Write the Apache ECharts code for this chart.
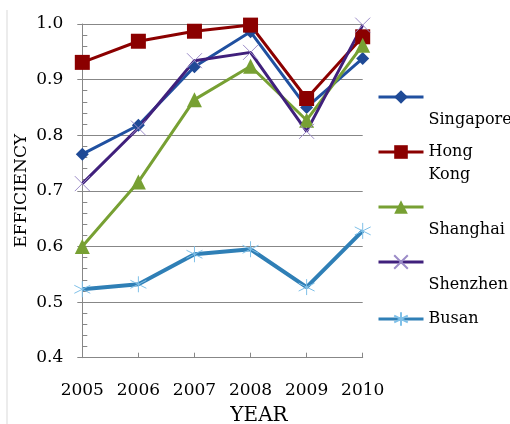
<!DOCTYPE html>
<html>
<head>
<meta charset="utf-8">
<script src="https://cdn.jsdelivr.net/npm/echarts@6/dist/echarts.min.js"></script>
<style>html,body{margin:0;padding:0;background:#fff}#c{width:510px;height:424px}</style>
</head>
<body>
<div id="c"></div>
<script>
const years = ['2005', '2006', '2007', '2008', '2009', '2010'];
const yTicks = [0.4, 0.5, 0.6, 0.7, 0.8, 0.9, 1.0];
const singapore = [0.766, 0.818, 0.923, 0.986, 0.850, 0.938];
const hongKong  = [0.931, 0.969, 0.987, 0.998, 0.866, 0.977];
const shanghai  = [0.600, 0.716, 0.864, 0.924, 0.827, 0.962];
const shenzhen  = [0.713, 0.813, 0.934, 0.949, 0.807, 0.998];
const busan     = [0.523, 0.532, 0.586, 0.595, 0.527, 0.628];
const names = ['Singapore', 'Hong Kong', 'Shanghai', 'Shenzhen', 'Busan'];

const FONT = 'DejaVu Serif';
const GRID = '#878787';
const xPath = 'path://M0,0 L10,10 M10,0 L0,10';
const starPath = 'path://M5,0 L5,10 M0.7,2.5 L9.3,7.5 M9.3,2.5 L0.7,7.5';
const NB = '\u00a0';

function mk(name, data, lineColor, symbol, size, symColor, strokeOnly, lw) {
  return {
    name: name, type: 'line', data: data,
    symbol: symbol, symbolSize: size,
    lineStyle: { color: lineColor, width: lw || 3 },
    itemStyle: strokeOnly
      ? { color: lineColor, borderColor: symColor, borderWidth: 1 }
      : { color: symColor },
    emphasis: { disabled: true },
    animation: false
  };
}

const chart = echarts.init(document.getElementById('c'));
const mkLegend = (name, top, fmt) => ({
  data: [name], orient: 'vertical', left: 377, top: top, padding: 0,
  itemWidth: 45, itemHeight: 17, selectedMode: false,
  lineStyle: { width: 3 },
  formatter: fmt,
  textStyle: { fontFamily: FONT, fontSize: 16, color: '#000', lineHeight: 23 }
});

chart.setOption({
  animation: false,
  grid: { left: 82.3, right: 147.3, top: 24, bottom: 66.3, containLabel: false, outerBoundsMode: 'none' },
  graphic: [{ type: 'line', shape: { x1: 7, y1: 10, x2: 7, y2: 424 }, style: { stroke: '#d9d9d9', lineWidth: 1 } }],
  legend: [
    mkLegend('Singapore', 62.5, n => NB + '\n' + NB + '\n' + n),
    mkLegend('Hong Kong', 117.5, () => NB + '\nHong\nKong'),
    mkLegend('Shanghai', 172.5, n => NB + '\n' + NB + '\n' + n),
    mkLegend('Shenzhen', 227.5, n => NB + '\n' + NB + '\n' + n),
    mkLegend('Busan', 307.5, n => n)
  ],
  xAxis: {
    type: 'category', data: years, boundaryGap: false,
    name: 'YEAR', nameLocation: 'middle', nameGap: 48,
    nameTextStyle: { fontFamily: FONT, fontSize: 20, color: '#000', padding: [0, 0, 0, 73] },
    axisLine: { lineStyle: { color: GRID, width: 1 } },
    axisTick: { show: true, inside: true, length: 5, alignWithLabel: true, lineStyle: { color: GRID } },
    axisLabel: { fontFamily: FONT, fontSize: 17, color: '#000', margin: 24, interval: 0, hideOverlap: false },
    splitLine: { show: false }
  },
  yAxis: {
    type: 'value', min: yTicks[0], max: yTicks[yTicks.length - 1], interval: 0.1,
    name: 'EFFICIENCY', nameLocation: 'middle', nameGap: 52, nameRotate: 90, nameMoveOverlap: false,
    nameTextStyle: { fontFamily: FONT, fontSize: 17, color: '#000' },
    axisLine: { show: true, lineStyle: { color: GRID, width: 1 } },
    axisTick: { show: true, length: 5, lineStyle: { color: GRID } },
    minorTick: { show: true, splitNumber: 5, length: -5, lineStyle: { color: GRID } },
    axisLabel: { fontFamily: FONT, fontSize: 17, color: '#000', margin: 19, formatter: v => v.toFixed(1) },
    splitLine: { show: true, lineStyle: { color: GRID, width: 1 } }
  },
  series: [
    mk('Singapore', singapore, '#2050a0', 'diamond', 13, '#1f4a96'),
    mk('Hong Kong', hongKong, '#8b0000', 'rect', 15, '#8b0000'),
    mk('Shanghai', shanghai, '#77a033', 'triangle', 15, '#77a033'),
    mk('Shenzhen', shenzhen, '#40207c', xPath, 15, '#9c8cc8', true),
    mk('Busan', busan, '#2f7fb6', starPath, 16, '#7fc0e8', true, 4)
  ]
});
</script>
</body>
</html>
